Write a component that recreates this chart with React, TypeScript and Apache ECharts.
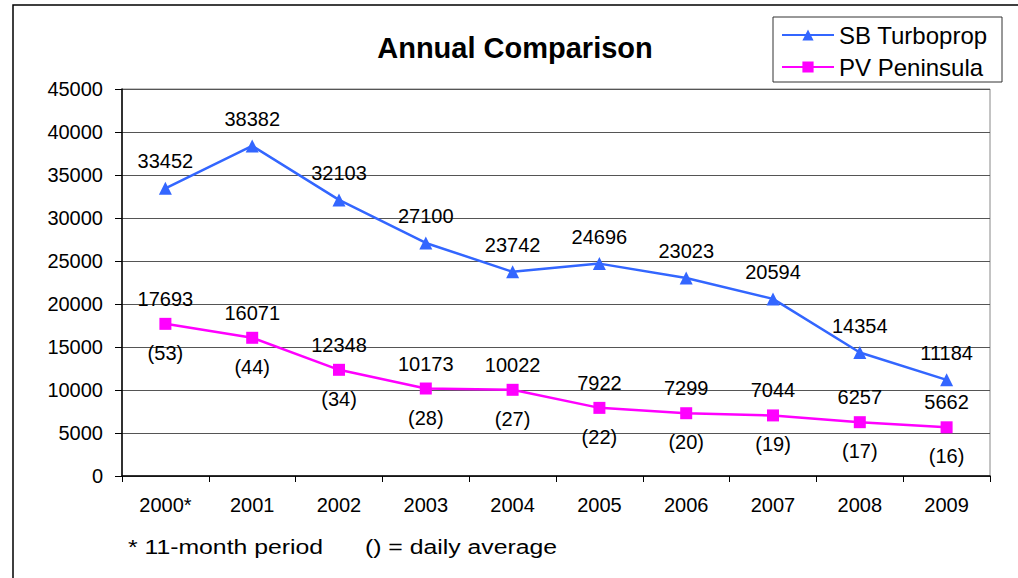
import React, { useEffect, useRef } from "react";
import * as echarts from "echarts";

const categories = ["2000*", "2001", "2002", "2003", "2004", "2005", "2006", "2007", "2008", "2009"];
const sbTurboprop = [33452, 38382, 32103, 27100, 23742, 24696, 23023, 20594, 14354, 11184];
const pvPeninsula = [17693, 16071, 12348, 10173, 10022, 7922, 7299, 7044, 6257, 5662];
const pvDailyAverage = [53, 44, 34, 28, 27, 22, 20, 19, 17, 16];
const seriesNames = ["SB Turboprop", "PV Peninsula"];
const titleText = "Annual Comparison";
const footnoteLeft = "* 11-month period";
const footnoteRight = "() = daily average";

const FONT = "'Liberation Sans', Arial, sans-serif";

export default function App() {
  const ref = useRef<HTMLDivElement>(null);
  useEffect(() => {
    if (!ref.current) return;
    const chart = echarts.init(ref.current, undefined, { renderer: "svg" });
    chart.setOption({
      animation: false,
      backgroundColor: "#ffffff",
      textStyle: { fontFamily: FONT, color: "#000" },
      grid: {
        left: 122,
        right: 28,
        top: 89,
        bottom: 102,
        show: true,
        borderColor: "#888",
        borderWidth: 1,
        backgroundColor: "#fff",
      },
      legend: {
        left: 781,
        top: 22,
        orient: "vertical",
        padding: 0,
        itemGap: 6,
        itemWidth: 52,
        itemHeight: 14,
        textStyle: { fontFamily: FONT, fontSize: 24, color: "#000", lineHeight: 26 },
        data: seriesNames,
      },
      xAxis: {
        type: "category",
        data: categories,
        boundaryGap: true,
        axisLine: { lineStyle: { color: "#000", width: 1.5 } },
        axisTick: { show: true, length: 6, lineStyle: { color: "#000" } },
        axisLabel: { fontFamily: FONT, fontSize: 20, color: "#000", margin: 19 },
      },
      yAxis: {
        type: "value",
        min: 0,
        max: 45000,
        interval: 5000,
        axisLine: { show: true, lineStyle: { color: "#000", width: 1.5 } },
        axisTick: { show: true, length: 7, lineStyle: { color: "#000" } },
        axisLabel: {
          fontFamily: FONT,
          fontSize: 20,
          color: "#000",
          margin: 19,
          formatter: (v: number) => String(v),
        },
        splitLine: { show: true, lineStyle: { color: "#555", width: 1 } },
      },
      series: [
        {
          name: seriesNames[0],
          type: "line",
          data: sbTurboprop,
          symbol: "triangle",
          symbolSize: 13,
          showAllSymbol: true,
          lineStyle: { color: "#3366ff", width: 2.5 },
          itemStyle: { color: "#3366ff" },
          label: {
            show: true,
            position: "inside",
            offset: [0, -27],
            fontFamily: FONT,
            fontSize: 20,
            color: "#000",
          },
          z: 3,
        },
        {
          name: seriesNames[1],
          type: "line",
          data: pvPeninsula,
          symbol: "rect",
          symbolSize: 12,
          showAllSymbol: true,
          lineStyle: { color: "#ff00ff", width: 2.5 },
          itemStyle: { color: "#ff00ff" },
          label: {
            show: true,
            position: "inside",
            offset: [0, 2],
            fontFamily: FONT,
            fontSize: 20,
            lineHeight: 27,
            color: "#000",
            formatter: (p: any) => `${p.value}\n\n(${pvDailyAverage[p.dataIndex]})`,
          },
          z: 3,
        },
      ],
      graphic: [
        {
          type: "rect",
          shape: { x: 13, y: 5, width: 1200, height: 800 },
          style: { fill: "none", stroke: "#000", lineWidth: 1.5 },
          silent: true,
          z: -1,
        },
        {
          type: "rect",
          shape: { x: 773, y: 17, width: 229, height: 65 },
          style: { fill: "#fff", stroke: "#333", lineWidth: 1 },
          silent: true,
          z: -1,
        },
        {
          type: "text",
          x: 515,
          y: 48,
          style: {
            text: titleText,
            fontFamily: FONT,
            fontSize: 29,
            fontWeight: "bold",
            fill: "#000",
            textAlign: "center",
            textVerticalAlign: "middle",
          },
        },
        {
          type: "text",
          x: 128,
          y: 547,
          scaleX: 1.18,
          style: {
            text: footnoteLeft,
            fontFamily: FONT,
            fontSize: 21,
            fill: "#000",
            textAlign: "left",
            textVerticalAlign: "middle",
          },
        },
        {
          type: "text",
          x: 365,
          y: 547,
          scaleX: 1.18,
          style: {
            text: footnoteRight,
            fontFamily: FONT,
            fontSize: 21,
            fill: "#000",
            textAlign: "left",
            textVerticalAlign: "middle",
          },
        },
      ],
    });
    return () => chart.dispose();
  }, []);
  return (
    <div
      ref={ref}
      style={{ position: "absolute", left: 0, top: 0, width: 1018, height: 578 }}
    />
  );
}
